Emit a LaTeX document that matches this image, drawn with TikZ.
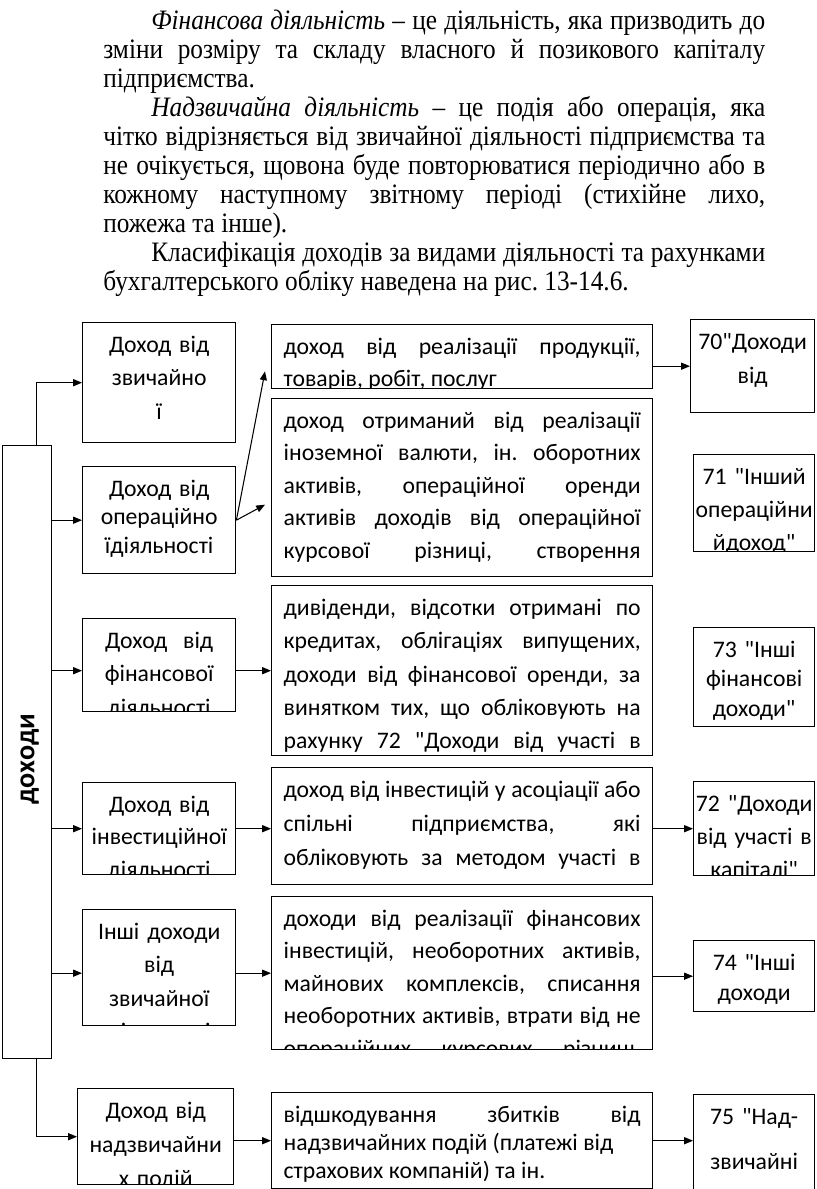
\documentclass[tikz,border=0pt]{standalone}
\usepackage{fontspec}
\setmainfont{Liberation Serif}[FakeStretch=0.9]
\newfontfamily\calfont{Carlito}
\usetikzlibrary{arrows.meta}

\begin{document}
\begin{tikzpicture}[
    x=0.02cm, y=-0.02cm,
    >={Triangle[length=5pt,width=4pt]},
    box/.style={draw, line width=0.8pt, inner sep=0pt, anchor=north west},
    lbox/.style={box, minimum width=3.06cm},
    dbox/.style={box, minimum width=7.62cm},
    rbox/.style={box, minimum width=2.42cm},
    ltext/.style={draw=none, fill=none, inner sep=0pt, minimum width=0pt, minimum height=0pt,
      anchor=north, yshift=-5.5pt, align=center, text width=3cm,
      font=\calfont\fontsize{13.5pt}{#1}\selectfont\frenchspacing,
      execute at begin node=\rule{0pt}{11pt}},
    ltext/.default=18pt,
    rtext/.style={ltext=#1, text width=2.4cm},
    rtext/.default=18pt,
    jtext/.style={ltext=#1, align=justify, text width=7.14cm},
    jtext/.default=18.5pt,
    arr/.style={->, line width=0.6pt}
  ]
  \useasboundingbox (0,0) rectangle (816,1189);

  % text above the scheme
  \node[anchor=north west, inner sep=0pt, text width=13.24cm, align=justify,
    font=\fontsize{16pt}{16.5pt}\selectfont\frenchspacing] (intro) at (103,8.7) {%
    \noindent\strut\hspace*{0.96cm}\textit{Фінансова діяльність} – це діяльність, яка призводить до\linebreak
    зміни розміру та складу власного й позикового капіталу\linebreak
    підприємства.\par
    \noindent\hspace*{0.96cm}\textit{Надзвичайна діяльність} – це подія або операція, яка\linebreak
    чітко відрізняється від звичайної діяльності підприємства та\linebreak
    не очікується, щовона буде повторюватися періодично або в\linebreak
    кожному наступному звітному періоді (стихійне лихо,\linebreak
    пожежа та інше).\par
    \noindent\hspace*{0.96cm}Класифікація доходів за видами діяльності та рахунками\linebreak
    бухгалтерського обліку наведена на рис. 13-14.6.};

  % main box
  \node[box, minimum width=0.98cm, minimum height=12.26cm] (dohody) at (2,445) {};
  \node[rotate=90, font=\calfont\bfseries\fontsize{16pt}{19pt}\selectfont] (dohodyname)
    at ([xshift=0.05cm, yshift=-0.14cm]dohody.center) {доходи};

  % kinds of income
  \node[lbox, minimum height=2.4cm, path picture={\node[ltext=19pt] (tzvych)
    at (path picture bounding box.north) {Доход від\\звичайно\\ї};}] (zvych) at (82,322) {};
  \node[lbox, minimum height=2.14cm, path picture={\node[ltext=16.2pt] (toper)
    at (path picture bounding box.north) {Доход від\\операційно\\їдіяльності};}] (oper) at (82,466) {};
  \node[lbox, minimum height=1.86cm, path picture={\node[ltext=19pt] (tfin)
    at (path picture bounding box.north) {Доход\ \ від\\фінансової\\діяльності};}] (fin) at (82,618) {};
  \node[lbox, minimum height=1.84cm, path picture={\node[ltext=18.5pt] (tinvest)
    at (path picture bounding box.north) {Доход від\\інвестиційної\\діяльності};}] (invest) at (82,782) {};
  \node[lbox, minimum height=2.32cm, path picture={\node[ltext=19pt] (tinshi)
    at (path picture bounding box.north) {Інші доходи\\від\\звичайної\\діяльності};}] (inshi) at (82,909) {};
  \node[lbox, minimum width=3.12cm, minimum height=1.92cm, path picture={\node[ltext=19.3pt] (tnadzv)
    at (path picture bounding box.north) {Доход від\\надзвичайни\\х подій};}] (nadzv) at (77,1088) {};

  % what they contain
  \node[dbox, minimum height=1.28cm, path picture={\node[jtext=18pt] (tdzvych)
    at (path picture bounding box.north) {доход від реалізації продукції,\linebreak
    товарів, робіт, послуг};}] (dzvych) at (271,324) {};
  \node[dbox, minimum height=3.56cm, path picture={\node[jtext=18.5pt] (tdoper)
    at (path picture bounding box.north) {доход отриманий від реалізації\linebreak
    іноземної валюти, ін. оборотних\linebreak
    активів, операційної оренди\linebreak
    активів доходів від операційної\linebreak
    курсової різниці, створення\linebreak};}] (doper) at (271,398) {};
  \node[dbox, minimum height=3.4cm, path picture={\node[jtext=19pt] (tdfin)
    at (path picture bounding box.north) {дивіденди, відсотки отримані по\linebreak
    кредитах, облігаціях випущених,\linebreak
    доходи від фінансової оренди, за\linebreak
    винятком тих, що обліковують на\linebreak
    рахунку 72 "Доходи від участі в\linebreak};}] (dfin) at (271,585) {};
  \node[dbox, minimum height=2.34cm, path picture={\node[jtext=19.3pt] (tdinvest)
    at (path picture bounding box.north) {доход від інвестицій у асоціації або\linebreak
    спільні підприємства, які\linebreak
    обліковують за методом участі в\linebreak};}] (dinvest) at (271,767) {};
  \node[dbox, minimum height=3.06cm, path picture={\node[jtext=18.5pt] (tdinshi)
    at (path picture bounding box.north) {доходи від реалізації фінансових\linebreak
    інвестицій, необоротних активів,\linebreak
    майнових комплексів, списання\linebreak
    необоротних активів, втрати від не\linebreak
    операційних курсових різниць тощо};}] (dinshi) at (271,896) {};
  \node[dbox, minimum height=1.92cm, path picture={\node[jtext=15.9pt] (tdnadzv)
    at (path picture bounding box.north) {відшкодування збитків від\linebreak
    надзвичайних подій (платежі від\\
    страхових компаній) та ін.};}] (dnadzv) at (271,1092) {};

  % accounts
  \node[rbox, minimum width=2.48cm, minimum height=1.86cm, path picture={\node[rtext=19.3pt] (tr70)
    at (path picture bounding box.north) {70"Доходи\\від};}] (r70) at (690,319) {};
  \node[rbox, minimum height=1.94cm, path picture={\node[rtext=18.8pt] (tr71)
    at (path picture bounding box.north) {71 "Інший\\операційни\\йдоход"};}] (r71) at (693,454) {};
  \node[rbox, minimum height=1.98cm, path picture={\node[rtext=16.8pt] (tr73)
    at (path picture bounding box.north) {73 "Інші\\фінансові\\доходи"};}] (r73) at (693,627) {};
  \node[rbox, minimum height=1.88cm, path picture={\node[rtext=18.8pt] (tr72)
    at (path picture bounding box.north) {72 "Доходи\\від участі в\\капіталі"};}] (r72) at (693,781) {};
  \node[rbox, minimum height=1.42cm, path picture={\node[rtext=17.1pt] (tr74)
    at (path picture bounding box.north) {74 "Інші\\доходи};}] (r74) at (693,940) {};
  \node[rbox, minimum height=2.2cm, path picture={\node[rtext=25.6pt] (tr75)
    at (path picture bounding box.north) {75 "Над-\\звичайні\\доходи"};}] (r75) at (693,1094) {};

  % connectors
  \draw[arr] ([xshift=0.19cm]dohody.north) |- (zvych.west);
  \draw[arr] (dohody.east |- oper.west) -- (oper.west);
  \draw[arr] (dohody.east |- dfin.west) -- (dfin.west -| fin.west);
  \draw[arr] (dohody.east |- invest.west) -- (invest.west);
  \draw[arr] (dohody.east |- dinshi.west) -- (dinshi.west -| inshi.west);
  \draw[arr] ([xshift=0.19cm]dohody.south) |- (nadzv.west);

  \draw[arr] (oper.east) -- ([xshift=-0.12cm, yshift=0.36cm]dzvych.south west);
  \draw[arr] (oper.east) -- ([xshift=-0.12cm, yshift=-0.34cm]doper.west);
  \draw[arr] (dfin.west -| fin.east) -- (dfin.west);
  \draw[arr] (invest.east) -- (invest.east -| dinvest.west);
  \draw[arr] (dinshi.west -| inshi.east) -- (dinshi.west);
  \draw[arr] (dnadzv.west -| nadzv.east) -- (dnadzv.west);

  \draw[arr] (r70.west -| dzvych.east) -- (r70.west);
  \draw[arr] (r72.west -| dinvest.east) -- (r72.west);
  \draw[arr] (r74.west -| dinshi.east) -- (r74.west);
  \draw[arr] (dnadzv.east) -- (dnadzv.east -| r75.west);
\end{tikzpicture}
\end{document}
